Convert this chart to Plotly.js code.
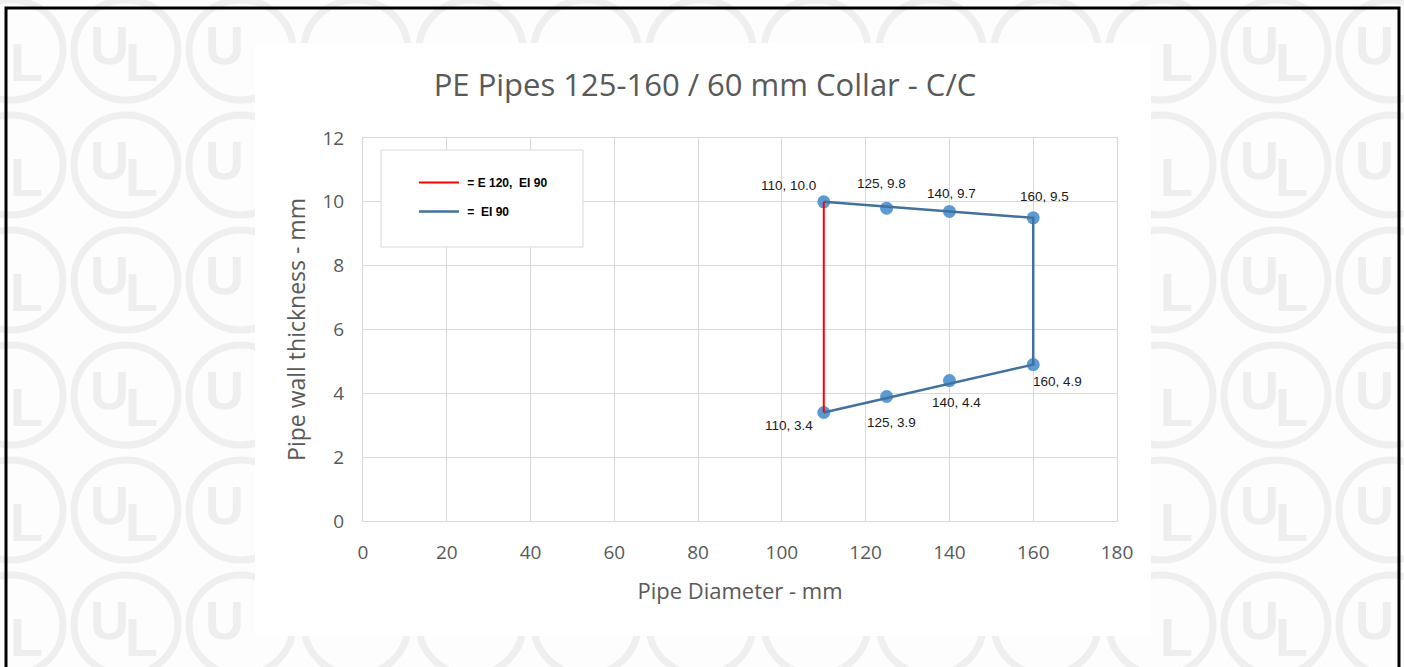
<!DOCTYPE html>
<html>
<head>
<meta charset="utf-8">
<script src="https://cdn.plot.ly/plotly-3.0.1.min.js"></script>
<style>
  html, body { margin: 0; padding: 0; background: #ffffff; }
  #chart { width: 1404px; height: 667px; }
</style>
</head>
<body>
<div id="chart"></div>
<script>
// ---------- data ----------
const diameters = [110, 125, 140, 160, 160, 140, 125, 110];
const wallThickness = [10.0, 9.8, 9.7, 9.5, 4.9, 4.4, 3.9, 3.4];
const redX = [110, 110];
const redY = [3.4, 10.0];
const blueX = [110, 160, 160, 110];
const blueY = [10.0, 9.5, 4.9, 3.4];
const seriesNames = ["\u00a0= E 120,\u00a0 EI 90", "\u00a0=\u00a0 EI 90"];
const xTicks = [0, 20, 40, 60, 80, 100, 120, 140, 160, 180];
const yTicks = [0, 2, 4, 6, 8, 10, 12];
const chartTitle = "PE Pipes 125-160 / 60 mm Collar - C/C";
const xTitle = "Pipe Diameter - mm";
const yTitle = "Pipe wall thickness - mm";

// ---------- styling (label offsets in px) ----------
const labelShift = [[-35, 16], [-5, 25], [2, 18], [11, 21], [24, -17], [7, -22], [5, -26], [-35, -13]];

const W = 1404, H = 667;
const M = {l: 363, r: 287, t: 138, b: 146};
const PW = W - M.l - M.r, PH = H - M.t - M.b;
const px2x = p => (p - M.l) / PW;
const py2y = p => (H - M.b - p) / PH;

const grey = '#595959';
const shapes = [];
const annotations = [];

// watermark circles + letters
const panel = {x0: 255, x1: 1151, y0: 43, y1: 636};
const rx = 52, ry = 50;
for (let r = 0; r < 6; r++) {
  for (let c = 0; c < 13; c++) {
    const cx = 11 + 115 * c, cy = 50 + 115 * r;
    shapes.push({type: 'circle', xref: 'paper', yref: 'paper', layer: 'below',
      x0: px2x(cx - rx), x1: px2x(cx + rx), y0: py2y(cy + ry), y1: py2y(cy - ry),
      line: {color: '#efefef', width: 7}, fillcolor: 'rgba(0,0,0,0)'});
    const letters = [['U', cx - 17, cy - 5], ['L', cx + 15, cy + 12]];
    letters.forEach(([t, lx, ly]) => {
      const inside = lx + 14 > panel.x0 && lx - 14 < panel.x1 && ly + 22 > panel.y0 && ly - 22 < panel.y1;
      const offCanvas = lx - 14 < 10 || lx + 14 > 1396 || ly + 20 > H;
      if (!inside && !offCanvas) {
        annotations.push({text: t, xref: 'paper', yref: 'paper', x: px2x(lx), y: py2y(ly),
          showarrow: false, xanchor: 'center', yanchor: 'middle',
          font: {family: 'Liberation Sans Narrow, Liberation Sans, sans-serif', size: 54, color: '#eeeeee', weight: 'bold'}});
      }
    });
  }
}
// white chart panel
shapes.push({type: 'rect', xref: 'paper', yref: 'paper', layer: 'below',
  x0: px2x(panel.x0), x1: px2x(panel.x1), y0: py2y(panel.y1), y1: py2y(panel.y0),
  fillcolor: '#ffffff', line: {width: 0}});
// outer black frame
shapes.push({type: 'rect', xref: 'paper', yref: 'paper', layer: 'above',
  x0: px2x(6), x1: px2x(1399), y0: py2y(700), y1: py2y(8),
  fillcolor: 'rgba(0,0,0,0)', line: {color: '#000000', width: 3}});
// legend box
shapes.push({type: 'rect', xref: 'paper', yref: 'paper', layer: 'above',
  x0: px2x(381), x1: px2x(583), y0: py2y(247), y1: py2y(150),
  fillcolor: '#ffffff', line: {color: '#d9d9d9', width: 1}});

// data labels
diameters.forEach((d, i) => {
  annotations.push({x: d, y: wallThickness[i], xref: 'x', yref: 'y',
    text: d + ', ' + wallThickness[i].toFixed(1), showarrow: false,
    xshift: labelShift[i][0], yshift: labelShift[i][1],
    font: {family: 'Liberation Sans, Arial, sans-serif', size: 13.5, color: '#1a1a1a'}});
});

const traces = [
  {type: 'scatter', mode: 'markers', x: diameters, y: wallThickness, showlegend: false,
   marker: {color: '#5B9BD5', size: 13}, hoverinfo: 'x+y'},
  {type: 'scatter', mode: 'lines', x: blueX, y: blueY, name: seriesNames[1],
   legendgroup: 'b', legendrank: 2, line: {color: '#41719C', width: 2.5}},
  {type: 'scatter', mode: 'lines', x: redX, y: redY, name: seriesNames[0],
   legendgroup: 'a', legendrank: 1, line: {color: '#FF0000', width: 2}}
];

const axisCommon = {
  showgrid: true, gridcolor: '#d9d9d9', gridwidth: 1, zeroline: false,
  showline: true, linecolor: '#d9d9d9', linewidth: 1, mirror: true, ticks: '',
  tickfont: {family: 'Open Sans, sans-serif', size: 19, color: grey}
};

const layout = {
  width: W, height: H, margin: M,
  paper_bgcolor: '#fdfdfd', plot_bgcolor: '#ffffff',
  title: {text: chartTitle, x: 705 / W, xref: 'container', xanchor: 'center',
          y: 1 - 85 / H, yref: 'container', yanchor: 'middle',
          font: {family: 'Open Sans, sans-serif', size: 31, color: grey}},
  xaxis: Object.assign({}, axisCommon, {range: [0, 180], tickvals: xTicks, ticklabelstandoff: 14,
          title: {text: xTitle, standoff: 19, font: {family: 'Open Sans, sans-serif', size: 22, color: grey}}}),
  yaxis: Object.assign({}, axisCommon, {range: [0, 12], tickvals: yTicks, ticklabelstandoff: 14,
          title: {text: yTitle, standoff: 10, font: {family: 'Open Sans, sans-serif', size: 23, color: grey}}}),
  showlegend: true,
  legend: {x: px2x(414), y: py2y(168), xanchor: 'left', yanchor: 'top',
           bgcolor: 'rgba(0,0,0,0)', borderwidth: 0, tracegroupgap: 10, itemwidth: 40,
           font: {family: 'Liberation Sans, Arial, sans-serif', size: 12, color: '#000000', weight: 'bold'}},
  shapes: shapes,
  annotations: annotations
};

Plotly.newPlot('chart', traces, layout, {displayModeBar: false, staticPlot: true});
</script>
</body>
</html>
